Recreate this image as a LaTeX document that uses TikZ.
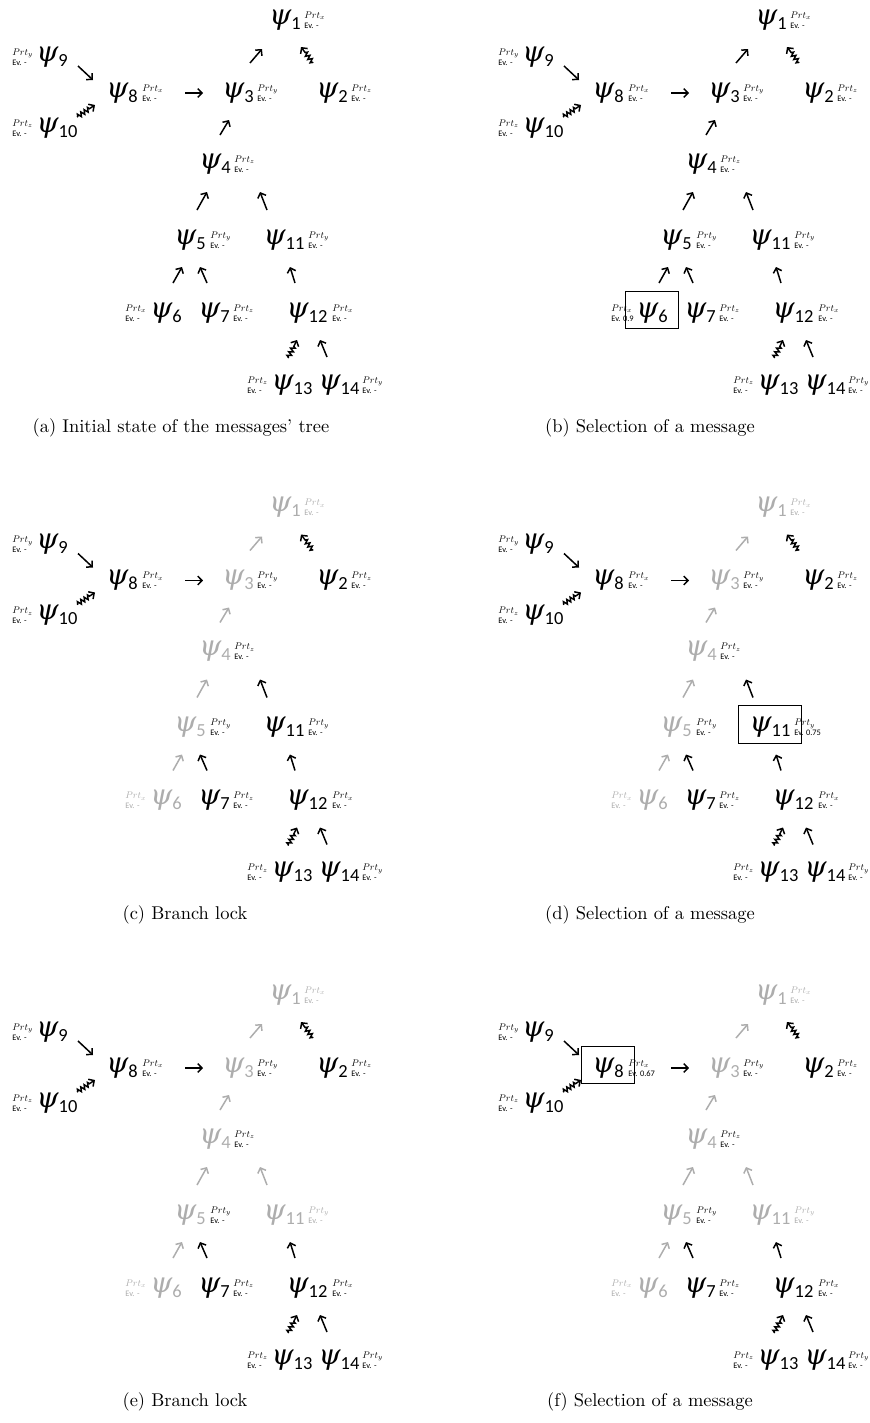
\documentclass[tikz,border=0pt]{standalone}
\usepackage{graphicx}
\usepackage{fontspec}
\usepackage{tikz}
\usetikzlibrary{arrows.meta,positioning,calc,fit,decorations.pathmorphing}
\newfontfamily\evfont{Carlito}
\newfontfamily\psifont{DejaVu Serif}
\colorlet{lockc}{black!32}
\colorlet{brA}{black}
\colorlet{brB}{black}
\newcommand\psin[1]{{\psifont\itshape ψ}\raisebox{-2.8pt}{\fontsize{10.5}{10.5}\evfont #1}}
\newcommand\tagtxt[2]{\scalebox{0.55}{\fontsize{10}{12}\selectfont$Prt_{#1}$}\\{\fontsize{4.8}{5.5}\evfont Ev. #2}}
\tikzset{
  psi/.style={inner sep=0pt,font=\fontsize{16}{18}\selectfont},
  tagbox/.style={anchor=west,align=left,inner sep=0pt,font=\fontsize{5}{5.8}\selectfont},
  arr/.style={-{Straight Barb[length=2.4pt,width=5pt]},line width=0.85pt},
  zarr/.style={arr,decorate,decoration={zigzag,segment length=2.3pt,amplitude=1.2pt,pre length=0.5pt,post length=3pt}},
  selbox/.style={draw,line width=0.6pt,inner xsep=0.21cm,inner ysep=0.16cm,yshift=1.7pt},
  captxt/.style={font=\fontsize{10.5}{12}\selectfont},
}
% one tree of messages: #1 prefix, #2 Ev of psi6, #3 Ev of psi11, #4 Ev of psi8
\newcommand\msgtree[4]{%
  \node[psi,text=brA] (#1-1) at (285,20) {\psin{1}};
  \node[psi] (#1-2) at (332,93) {\psin{2}};
  \node[psi,text=brA] (#1-3) at (238,93) {\psin{3}};
  \node[psi,text=brA] (#1-4) at (215,164) {\psin{4}};
  \node[psi,text=brA] (#1-5) at (190,240) {\psin{5}};
  \node[psi,text=brA] (#1-6) at (166,313) {\psin{6}};
  \node[psi] (#1-7) at (214,313) {\psin{7}};
  \node[psi] (#1-8) at (122,93) {\psin{8}};
  \node[psi] (#1-9) at (52,57) {\psin{9}};
  \node[psi] (#1-10) at (57,128) {\psin{10}};
  \node[psi,text=brB] (#1-11) at (284,240) {\psin{11}};
  \node[psi] (#1-12) at (307,313) {\psin{12}};
  \node[psi] (#1-13) at (292,385) {\psin{13}};
  \node[psi] (#1-14) at (339,385) {\psin{14}};
  % labels
  \node[tagbox,text=brA] at ([shift={(19,0)}]#1-1.center) {\tagtxt{x}{-}};
  \node[tagbox] at ([shift={(19,0)}]#1-2.center) {\tagtxt{z}{-}};
  \node[tagbox] at ([shift={(19,0)}]#1-3.center) {\tagtxt{y}{-}};
  \node[tagbox] at ([shift={(19,0)}]#1-4.center) {\tagtxt{z}{-}};
  \node[tagbox] at ([shift={(20,0)}]#1-5.center) {\tagtxt{y}{-}};
  \node[tagbox,text=brA] at ([shift={(-41,0)}]#1-6.center) {\tagtxt{x}{#2}};
  \node[tagbox] at ([shift={(19,0)}]#1-7.center) {\tagtxt{z}{-}};
  \node[tagbox] at ([shift={(20,0)}]#1-8.center) {\tagtxt{x}{#4}};
  \node[tagbox] at ([shift={(-40,0)}]#1-9.center) {\tagtxt{y}{-}};
  \node[tagbox] at ([shift={(-45,0)}]#1-10.center) {\tagtxt{z}{-}};
  \node[tagbox,text=brB] at ([shift={(24,0)}]#1-11.center) {\tagtxt{y}{#3}};
  \node[tagbox] at ([shift={(25,0)}]#1-12.center) {\tagtxt{x}{-}};
  \node[tagbox] at ([shift={(-45,0)}]#1-13.center) {\tagtxt{z}{-}};
  \node[tagbox] at ([shift={(23,0)}]#1-14.center) {\tagtxt{y}{-}};
  % links
  \draw[arr] ([shift={(26,9)}]#1-9.center) -- ([shift={(-29,-13)}]#1-8.center);
  \draw[zarr] ([shift={(20,-11)}]#1-10.center) -- ([shift={(-27,12)}]#1-8.center);
  \draw[arr] ([shift={(63,0)}]#1-8.center) -- ([shift={(-35,0)}]#1-3.center);
  \draw[arr,brA] ([shift={(12,-30)}]#1-3.center) -- ([shift={(-23,29)}]#1-1.center);
  \draw[zarr] ([shift={(-19,-30)}]#1-2.center) -- ([shift={(16,27)}]#1-1.center);
  \draw[arr,brA] ([shift={(5,-29)}]#1-4.center) -- ([shift={(-9,27)}]#1-3.center);
  \draw[arr,brA] ([shift={(7,-30)}]#1-5.center) -- ([shift={(-8,28)}]#1-4.center);
  \draw[arr,brB] ([shift={(-17,-30)}]#1-11.center) -- ([shift={(45,28)}]#1-4.center);
  \draw[arr,brA] ([shift={(7,-30)}]#1-6.center) -- ([shift={(-8,27)}]#1-5.center);
  \draw[arr] ([shift={(-7,-30)}]#1-7.center) -- ([shift={(10,27)}]#1-5.center);
  \draw[arr] ([shift={(-12,-30)}]#1-12.center) -- ([shift={(6,27)}]#1-11.center);
  \draw[zarr] ([shift={(-4,-27)}]#1-13.center) -- ([shift={(-10,27)}]#1-12.center);
  \draw[arr] ([shift={(-12,-28)}]#1-14.center) -- ([shift={(13,27)}]#1-12.center);
}

\begin{document}
\begin{tikzpicture}[x=0.02cm,y=-0.02cm]
  \useasboundingbox (0,0) rectangle (869,1423);
  % (a)
  \begin{scope}
    \msgtree{a}{-}{-}{-}
  \end{scope}
  \node[captxt] (capa) at (181,428) {(a) Initial state of the messages' tree};
  % (b)
  \begin{scope}[shift={(486,0)}]
    \msgtree{b}{0.9}{-}{-}
    \node[selbox,fit=(b-6)] (selb) {};
  \end{scope}
  \node[captxt] (capb) at (650,428) {(b) Selection of a message};
  % (c)
  \begin{scope}[shift={(0,487.5)}]
    \colorlet{brA}{lockc}
    \msgtree{c}{-}{-}{-}
  \end{scope}
  \node[captxt] (capc) at (185,915) {(c) Branch lock};
  % (d)
  \begin{scope}[shift={(486,487.5)}]
    \colorlet{brA}{lockc}
    \msgtree{d}{-}{0.75}{-}
    \node[selbox,fit=(d-11)] (seld) {};
  \end{scope}
  \node[captxt] (capd) at (650,915) {(d) Selection of a message};
  % (e)
  \begin{scope}[shift={(0,975)}]
    \colorlet{brA}{lockc}\colorlet{brB}{lockc}
    \msgtree{e}{-}{-}{-}
  \end{scope}
  \node[captxt] (cape) at (185,1402) {(e) Branch lock};
  % (f)
  \begin{scope}[shift={(486,975)}]
    \colorlet{brA}{lockc}\colorlet{brB}{lockc}
    \msgtree{f}{-}{-}{0.67}
    \node[selbox,fit=(f-8)] (self) {};
  \end{scope}
  \node[captxt] (capf) at (650,1402) {(f) Selection of a message};
\end{tikzpicture}
\end{document}
